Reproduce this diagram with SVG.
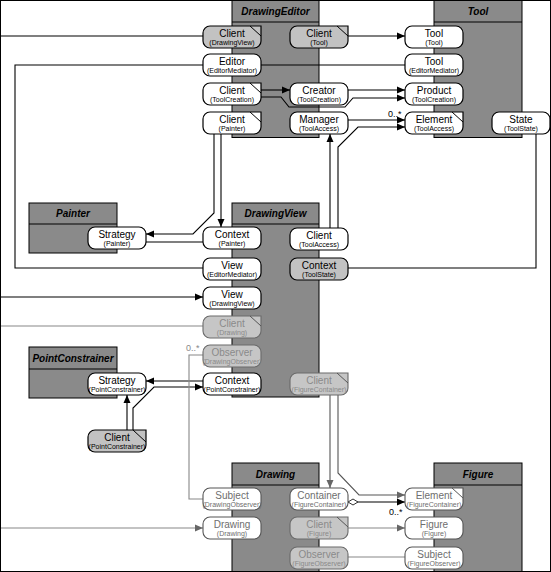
<svg xmlns="http://www.w3.org/2000/svg" width="551" height="572" viewBox="0 0 551 572">
<style>
text{font-family:"Liberation Sans",Arial,sans-serif}
.cls{fill:#8a8a8a;stroke:#000;stroke-width:1}
.ttl{font-size:10px;font-weight:bold;font-style:italic;text-anchor:middle;fill:#000}
.nb{fill:#fff;stroke:#000;stroke-width:1.2}
.ng{fill:#c2c2c2;stroke:#000;stroke-width:1.2}
.nf{fill:#c6c6c6;stroke:#6a6a6a;stroke-width:1.1}
.nw{fill:#fff;stroke:#555;stroke-width:1.1}
.n1{font-size:10px;text-anchor:middle;fill:#000}
.n2{font-size:7px;text-anchor:middle;fill:#000}
.fd .n1,.fd .n2{fill:#8a8a8a}
.fw .n1,.fw .n2{fill:#6e6e6e}
.de{stroke:#000;stroke-width:1;fill:none}
.fd .de,.fw .de{stroke:#555}
.l{fill:none;stroke:#000;stroke-width:1.1}
.lg{fill:none;stroke:#888;stroke-width:1.1}
.ld{fill:none;stroke:#555;stroke-width:1.1}
.lab{font-size:9px;fill:#000}
.labg{font-size:9px;fill:#888}
</style>
<defs>
<marker id="a" markerUnits="userSpaceOnUse" markerWidth="9" markerHeight="8" refX="8" refY="4" orient="auto"><path d="M0,0.5 L8,4 L0,7.5 z" fill="#000"/></marker>
<marker id="ag" markerUnits="userSpaceOnUse" markerWidth="9" markerHeight="8" refX="8" refY="4" orient="auto"><path d="M0,0.5 L8,4 L0,7.5 z" fill="#666"/></marker>
<marker id="dm" markerUnits="userSpaceOnUse" markerWidth="12" markerHeight="8" refX="0" refY="4" orient="auto"><path d="M0,4 L5,1 L10,4 L5,7 z" fill="#fff" stroke="#333" stroke-width="1"/></marker>
</defs>
<rect x="0" y="0" width="551" height="572" fill="#fff"/>

<g id="classes">
<g id="DrawingEditor"><rect class="cls" x="232" y="0.5" width="87" height="137"/><line x1="232" y1="22" x2="319" y2="22" stroke="#000"/><text class="ttl" x="275.5" y="15">DrawingEditor</text></g>
<g id="Tool"><rect class="cls" x="434" y="0.5" width="88" height="137"/><line x1="434" y1="22" x2="522" y2="22" stroke="#000"/><text class="ttl" x="478" y="15">Tool</text></g>
<g id="Painter"><rect class="cls" x="29" y="203" width="88" height="50"/><line x1="29" y1="224" x2="117" y2="224" stroke="#000"/><text class="ttl" x="73" y="217">Painter</text></g>
<g id="DrawingView"><rect class="cls" x="232" y="203" width="87" height="194"/><line x1="232" y1="224" x2="319" y2="224" stroke="#000"/><text class="ttl" x="275.5" y="217">DrawingView</text></g>
<g id="PointConstrainer"><rect class="cls" x="29" y="347" width="88" height="51"/><line x1="29" y1="369" x2="117" y2="369" stroke="#000"/><text class="ttl" x="73" y="362">PointConstrainer</text></g>
<g id="Drawing"><rect class="cls" x="232" y="463" width="87" height="109"/><line x1="232" y1="485" x2="319" y2="485" stroke="#000"/><text class="ttl" x="275.5" y="478">Drawing</text></g>
<g id="Figure"><rect class="cls" x="434" y="463" width="88" height="109"/><line x1="434" y1="485" x2="522" y2="485" stroke="#000"/><text class="ttl" x="478" y="478">Figure</text></g>
</g>

<g id="connectors">
<path class="l" d="M0,36 H203"/>
<path class="l" d="M348,36 H405" marker-end="url(#a)"/>
<path class="l" d="M261,65 H405"/>
<path class="l" d="M203,65 H15 V268 H203"/>
<path class="l" d="M261,90 H290" marker-end="url(#a)"/>
<path class="l" d="M348,90 H405" marker-end="url(#a)"/>
<path class="l" d="M261,97 H281 L289,107 H345 L353,98 H405" marker-end="url(#a)"/>
<path class="l" d="M348,120 H405" marker-end="url(#a)"/>
<text class="lab" x="388" y="117">0..*</text>
<path class="l" d="M338,228 V147 L358,127 H405" marker-end="url(#a)"/>
<path class="l" d="M330,228 V134" marker-end="url(#a)"/>
<path class="l" d="M536,134 V268 H348"/>
<path class="l" d="M214,134 V213 L193,234 H146" marker-end="url(#a)"/>
<path class="l" d="M221,134 V227" marker-end="url(#a)"/>
<path class="l" d="M203,242 H146"/>
<path class="l" d="M0,297 H203" marker-end="url(#a)"/>
<path class="l" d="M203,381 H146" marker-end="url(#a)"/>
<path class="l" d="M133,430 V408 L154,387 H203" marker-end="url(#a)"/>
<path class="l" d="M127,430 V395" marker-end="url(#a)"/>
<path class="lg" d="M0,326 H203"/>
<path class="lg" d="M203,355 H189 V499 H203"/>
<text class="labg" x="186" y="351">0..*</text>
<path class="lg" d="M0,528 H203" marker-end="url(#ag)"/>
<path class="ld" d="M330,395 V488" marker-end="url(#ag)"/>
<path class="ld" d="M338,395 V473 L359,495 H405" marker-end="url(#ag)"/>
<path class="l" d="M348,502 H405" marker-start="url(#dm)" marker-end="url(#a)"/>
<text class="lab" x="389" y="515">0..*</text>
<path class="lg" d="M348,528 H405" marker-end="url(#ag)"/>
<path class="lg" d="M348,557 H405"/>
</g>

<g id="nodes">
<g id="n-client-drawingview"><path class="ng" d="M210,26 H261 V41 A7,7 0 0 1 254,48 H210 A7,7 0 0 1 203,41 V33 A7,7 0 0 1 210,26 Z"/><line class="de" x1="250" y1="26" x2="261" y2="36"/><text class="n1" x="232" y="37">Client</text><text class="n2" x="232" y="45">(DrawingView)</text></g>
<g id="n-editor"><rect class="nb" x="203" y="54" width="58" height="22" rx="7"/><text class="n1" x="232" y="65">Editor</text><text class="n2" x="232" y="73">(EditorMediator)</text></g>
<g id="n-client-toolcreation"><path class="nb" d="M210,83 H261 V98 A7,7 0 0 1 254,105 H210 A7,7 0 0 1 203,98 V90 A7,7 0 0 1 210,83 Z"/><line class="de" x1="250" y1="83" x2="261" y2="93"/><text class="n1" x="232" y="94">Client</text><text class="n2" x="232" y="102">(ToolCreation)</text></g>
<g id="n-client-painter"><path class="nb" d="M210,112 H261 V127 A7,7 0 0 1 254,134 H210 A7,7 0 0 1 203,127 V119 A7,7 0 0 1 210,112 Z"/><line class="de" x1="250" y1="112" x2="261" y2="122"/><text class="n1" x="232" y="123">Client</text><text class="n2" x="232" y="131">(Painter)</text></g>
<g id="n-client-tool"><path class="ng" d="M297,26 H348 V41 A7,7 0 0 1 341,48 H297 A7,7 0 0 1 290,41 V33 A7,7 0 0 1 297,26 Z"/><line class="de" x1="337" y1="26" x2="348" y2="36"/><text class="n1" x="319" y="37">Client</text><text class="n2" x="319" y="45">(Tool)</text></g>
<g id="n-creator"><rect class="nb" x="290" y="83" width="58" height="22" rx="7"/><text class="n1" x="319" y="94">Creator</text><text class="n2" x="319" y="102">(ToolCreation)</text></g>
<g id="n-manager"><rect class="nb" x="290" y="112" width="58" height="22" rx="7"/><text class="n1" x="319" y="123">Manager</text><text class="n2" x="319" y="131">(ToolAccess)</text></g>
<g id="n-tool-tool"><rect class="nb" x="405" y="26" width="58" height="22" rx="7"/><text class="n1" x="434" y="37">Tool</text><text class="n2" x="434" y="45">(Tool)</text></g>
<g id="n-tool-editormediator"><rect class="nb" x="405" y="54" width="58" height="22" rx="7"/><text class="n1" x="434" y="65">Tool</text><text class="n2" x="434" y="73">(EditorMediator)</text></g>
<g id="n-product"><rect class="nb" x="405" y="83" width="58" height="22" rx="7"/><text class="n1" x="434" y="94">Product</text><text class="n2" x="434" y="102">(ToolCreation)</text></g>
<g id="n-element-toolaccess"><path class="nb" d="M412,112 H463 V127 A7,7 0 0 1 456,134 H412 A7,7 0 0 1 405,127 V119 A7,7 0 0 1 412,112 Z"/><line class="de" x1="452" y1="112" x2="463" y2="122"/><text class="n1" x="434" y="123">Element</text><text class="n2" x="434" y="131">(ToolAccess)</text></g>
<g id="n-state"><rect class="nb" x="492" y="112" width="58" height="22" rx="7"/><text class="n1" x="521" y="123">State</text><text class="n2" x="521" y="131">(ToolState)</text></g>
<g id="n-strategy-painter"><rect class="nb" x="88" y="227" width="58" height="22" rx="7"/><text class="n1" x="117" y="238">Strategy</text><text class="n2" x="117" y="246">(Painter)</text></g>
<g id="n-context-painter"><rect class="nb" x="203" y="227" width="58" height="22" rx="7"/><text class="n1" x="232" y="238">Context</text><text class="n2" x="232" y="246">(Painter)</text></g>
<g id="n-view-editormediator"><rect class="nb" x="203" y="258" width="58" height="22" rx="7"/><text class="n1" x="232" y="269">View</text><text class="n2" x="232" y="277">(EditorMediator)</text></g>
<g id="n-view-drawingview"><rect class="nb" x="203" y="287" width="58" height="22" rx="7"/><text class="n1" x="232" y="298">View</text><text class="n2" x="232" y="306">(DrawingView)</text></g>
<g id="n-client-drawing" class="fd"><path class="nf" d="M210,316 H261 V331 A7,7 0 0 1 254,338 H210 A7,7 0 0 1 203,331 V323 A7,7 0 0 1 210,316 Z"/><line class="de" x1="250" y1="316" x2="261" y2="326"/><text class="n1" x="232" y="327">Client</text><text class="n2" x="232" y="335">(Drawing)</text></g>
<g id="n-observer-drawingobserver" class="fd"><rect class="nf" x="203" y="345" width="58" height="22" rx="7"/><text class="n1" x="232" y="356">Observer</text><text class="n2" x="232" y="364">(DrawingObserver)</text></g>
<g id="n-context-pointconstrainer"><rect class="nb" x="203" y="373" width="58" height="22" rx="7"/><text class="n1" x="232" y="384">Context</text><text class="n2" x="232" y="392">(PointConstrainer)</text></g>
<g id="n-client-toolaccess"><rect class="nb" x="290" y="228" width="58" height="22" rx="7"/><text class="n1" x="319" y="239">Client</text><text class="n2" x="319" y="247">(ToolAccess)</text></g>
<g id="n-context-toolstate"><rect class="ng" x="290" y="258" width="58" height="22" rx="7"/><text class="n1" x="319" y="269">Context</text><text class="n2" x="319" y="277">(ToolState)</text></g>
<g id="n-client-figurecontainer" class="fd"><path class="nf" d="M297,373 H348 V388 A7,7 0 0 1 341,395 H297 A7,7 0 0 1 290,388 V380 A7,7 0 0 1 297,373 Z"/><line class="de" x1="337" y1="373" x2="348" y2="383"/><text class="n1" x="319" y="384">Client</text><text class="n2" x="319" y="392">(FigureContainer)</text></g>
<g id="n-strategy-pointconstrainer"><rect class="nb" x="88" y="373" width="58" height="22" rx="7"/><text class="n1" x="117" y="384">Strategy</text><text class="n2" x="117" y="392">(PointConstrainer)</text></g>
<g id="n-client-pointconstrainer"><path class="ng" d="M95,430 H146 V445 A7,7 0 0 1 139,452 H95 A7,7 0 0 1 88,445 V437 A7,7 0 0 1 95,430 Z"/><line class="de" x1="133" y1="430" x2="146" y2="442"/><text class="n1" x="117" y="441">Client</text><text class="n2" x="117" y="449">(PointConstrainer)</text></g>
<g id="n-subject-drawingobserver" class="fw"><rect class="nw" x="203" y="488" width="58" height="22" rx="7"/><text class="n1" x="232" y="499">Subject</text><text class="n2" x="232" y="507">(DrawingObserver)</text></g>
<g id="n-drawing-drawing" class="fw"><rect class="nw" x="203" y="517" width="58" height="22" rx="7"/><text class="n1" x="232" y="528">Drawing</text><text class="n2" x="232" y="536">(Drawing)</text></g>
<g id="n-container" class="fw"><rect class="nw" x="290" y="488" width="58" height="22" rx="7"/><text class="n1" x="319" y="499">Container</text><text class="n2" x="319" y="507">(FigureContainer)</text></g>
<g id="n-client-figure" class="fd"><path class="nf" d="M297,517 H348 V532 A7,7 0 0 1 341,539 H297 A7,7 0 0 1 290,532 V524 A7,7 0 0 1 297,517 Z"/><line class="de" x1="337" y1="517" x2="348" y2="527"/><text class="n1" x="319" y="528">Client</text><text class="n2" x="319" y="536">(Figure)</text></g>
<g id="n-observer-figureobserver" class="fd"><rect class="nf" x="290" y="547" width="58" height="22" rx="7"/><text class="n1" x="319" y="558">Observer</text><text class="n2" x="319" y="566">(FigureObserver)</text></g>
<g id="n-element-figurecontainer" class="fw"><path class="nw" d="M412,488 H463 V503 A7,7 0 0 1 456,510 H412 A7,7 0 0 1 405,503 V495 A7,7 0 0 1 412,488 Z"/><line class="de" x1="452" y1="488" x2="463" y2="498"/><text class="n1" x="434" y="499">Element</text><text class="n2" x="434" y="507">(FigureContainer)</text></g>
<g id="n-figure-figure" class="fw"><rect class="nw" x="405" y="517" width="58" height="22" rx="7"/><text class="n1" x="434" y="528">Figure</text><text class="n2" x="434" y="536">(Figure)</text></g>
<g id="n-subject-figureobserver" class="fw"><rect class="nw" x="405" y="547" width="58" height="22" rx="7"/><text class="n1" x="434" y="558">Subject</text><text class="n2" x="434" y="566">(FigureObserver)</text></g>
</g>

<rect x="0.5" y="0.5" width="550" height="571" fill="none" stroke="#000" stroke-width="1"/>
</svg>
